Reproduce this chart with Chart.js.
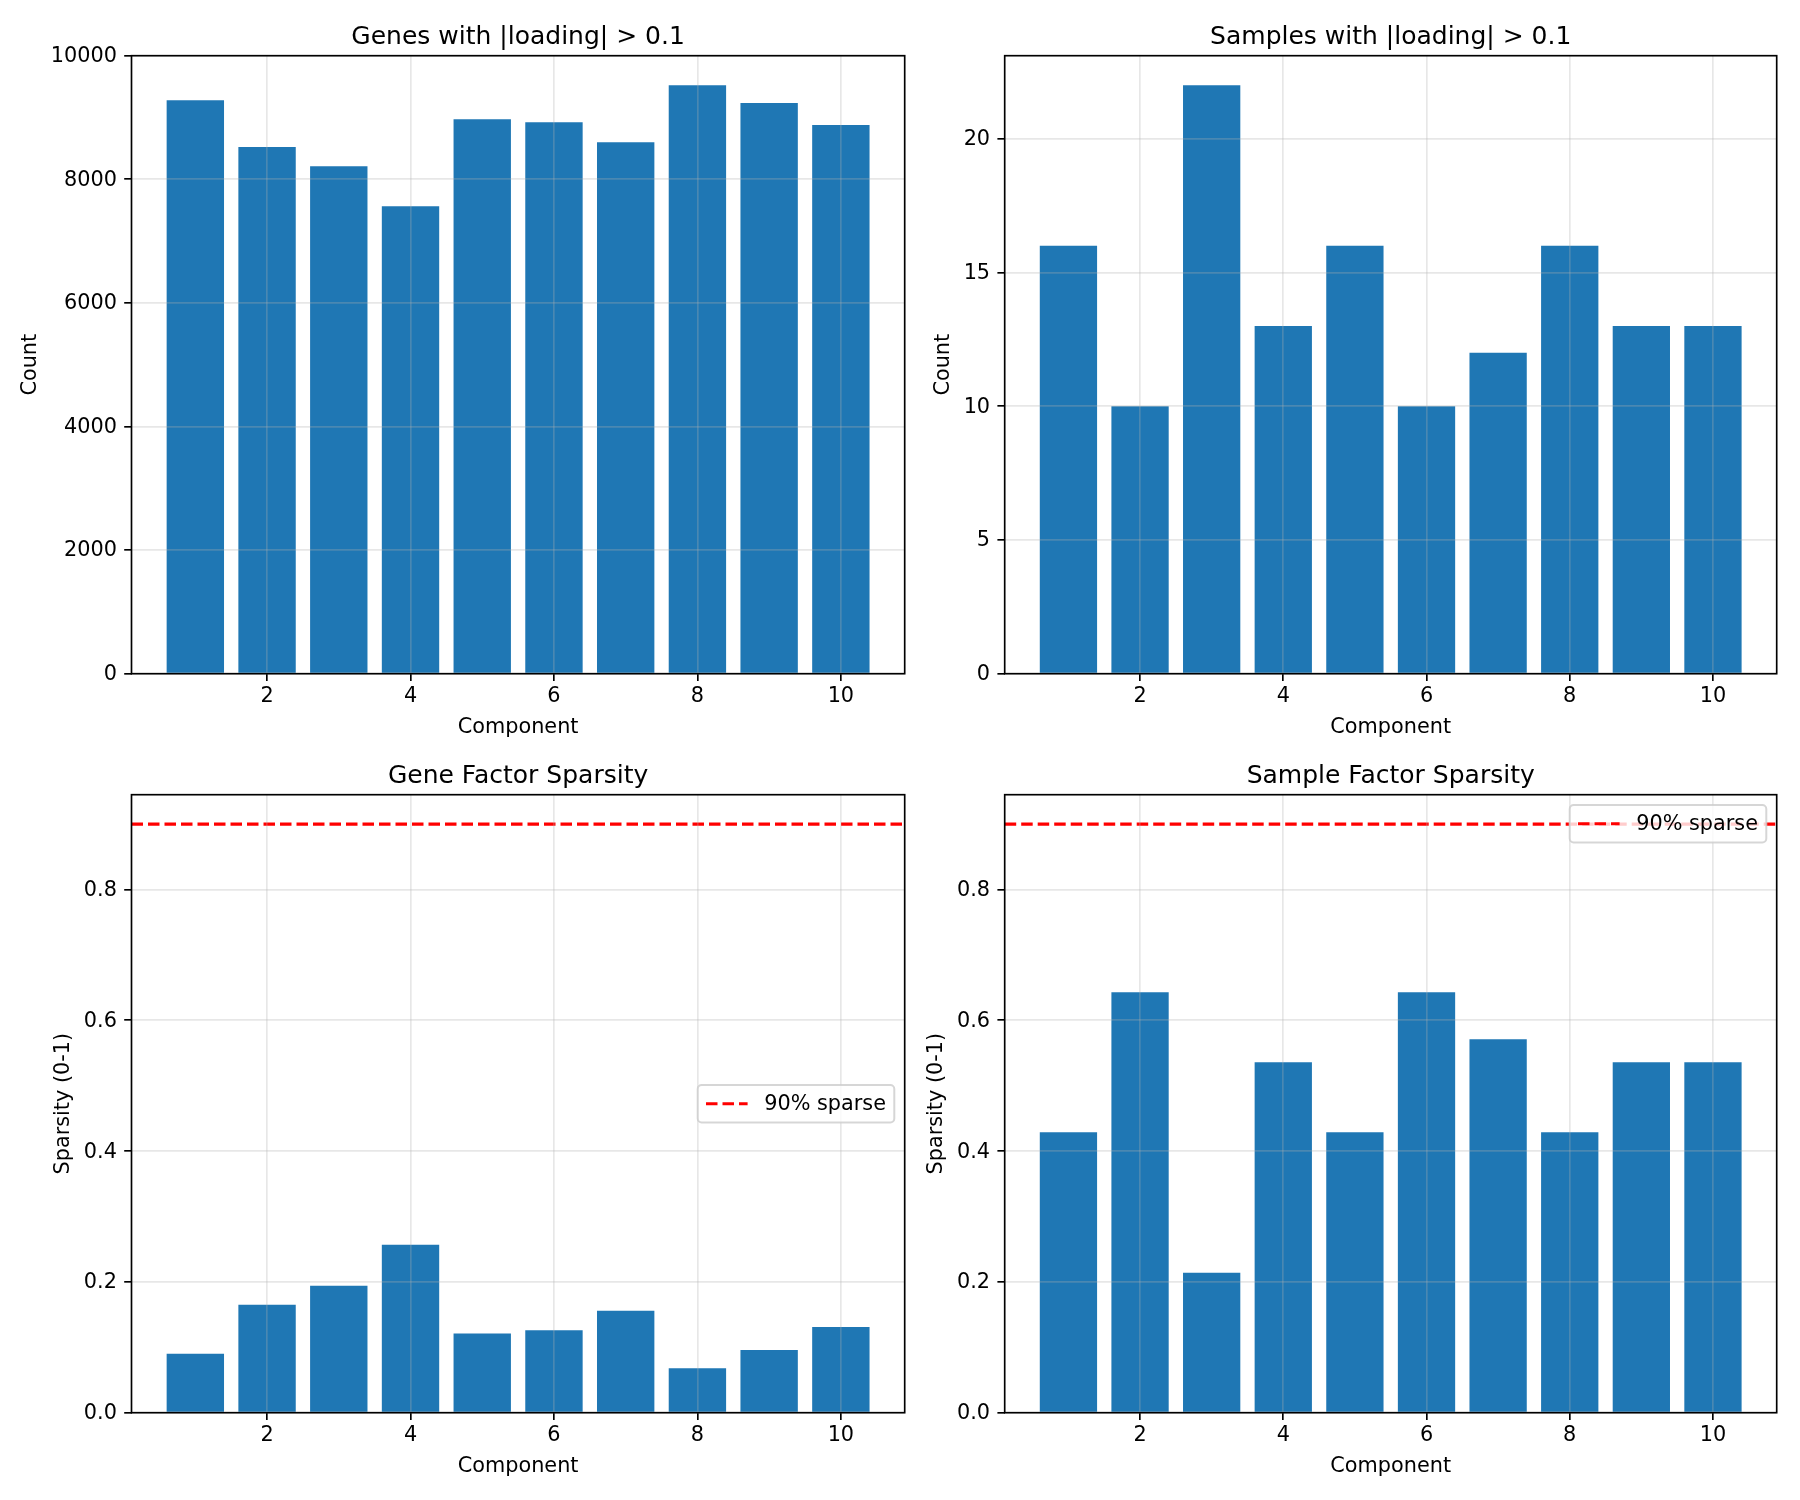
<!DOCTYPE html>
<html>
<head>
<meta charset="utf-8">
<script src="https://cdn.jsdelivr.net/npm/chart.js@4.4.1/dist/chart.umd.min.js"></script>
<style>
  body { margin: 0; background: #fff; }
  #fig { position: relative; width: 1800px; height: 1500px; }
  canvas { position: absolute; }
</style>
</head>
<body>
<div id="fig">
  <canvas id="genes" width="930" height="750" style="left:0;top:0"></canvas>
  <canvas id="samples" width="890" height="750" style="left:910px;top:0"></canvas>
  <canvas id="geneSparse" width="930" height="761" style="left:0;top:739px"></canvas>
  <canvas id="sampleSparse" width="890" height="761" style="left:910px;top:739px"></canvas>
</div>
<script>
// values
const components = [1, 2, 3, 4, 5, 6, 7, 8, 9, 10];
const geneCounts = [9280, 8522, 8212, 7562, 8971, 8924, 8599, 9520, 9234, 8878];
const sampleCounts = [16, 10, 22, 13, 16, 10, 12, 16, 13, 13];
const geneSparsity = [0.090, 0.165, 0.194, 0.257, 0.121, 0.126, 0.156, 0.068, 0.096, 0.131];
const sampleSparsity = [0.429, 0.643, 0.214, 0.536, 0.429, 0.643, 0.571, 0.429, 0.536, 0.536];
const xTicks = [2, 4, 6, 8, 10];
const xRange = [0.11, 10.89];
const geneCountTicks = [0, 2000, 4000, 6000, 8000, 10000];
const sampleCountTicks = [0, 5, 10, 15, 20];
const sparsityTicks = [0, 0.2, 0.4, 0.6, 0.8];
const sparseThreshold = 0.9;
const sparseLabel = '90% sparse';

const FONT = 'DejaVu Sans';
const TICK_PX = 20.8;
const TITLE_PX = 25;
const LW = 1.67;
const BLUE = '#1f77b4';
const GRID = 'rgba(176,176,176,0.3)';

Chart.defaults.font.family = FONT;

// frame round the axes + matplotlib style legend inside the plot
const frameAndLegend = {
    id: 'frameAndLegend',
    afterDraw(chart, args, opts) {
        const { ctx, chartArea: a } = chart;
        ctx.save();
        ctx.strokeStyle = '#000';
        ctx.lineWidth = LW;
        ctx.strokeRect(a.left, a.top, a.right - a.left, a.bottom - a.top);

        const ds = chart.data.datasets.find(d => d.type === 'line');
        if (ds && opts.loc) {
            ctx.font = `${TICK_PX}px "${FONT}"`;
            const pad = 8.3, handle = 41.6, gap = 16.6, axPad = 10.4;
            const w = pad * 2 + handle + gap + ctx.measureText(ds.label).width;
            const h = pad * 2 + TICK_PX;
            const x = a.right - axPad - w;
            const y = opts.loc === 'upper right' ? a.top + axPad : (a.top + a.bottom) / 2 - h / 2;
            ctx.beginPath();
            ctx.roundRect(x, y, w, h, 4);
            ctx.fillStyle = 'rgba(255,255,255,0.8)';
            ctx.fill();
            ctx.strokeStyle = 'rgba(204,204,204,0.8)';
            ctx.lineWidth = 2;
            ctx.stroke();
            const cy = y + h / 2;
            ctx.beginPath();
            ctx.setLineDash(ds.borderDash);
            ctx.strokeStyle = ds.borderColor;
            ctx.lineWidth = ds.borderWidth;
            ctx.moveTo(x + pad, cy);
            ctx.lineTo(x + pad + handle, cy);
            ctx.stroke();
            ctx.setLineDash([]);
            ctx.fillStyle = '#000';
            ctx.textBaseline = 'middle';
            ctx.textAlign = 'left';
            ctx.fillText(ds.label, x + pad + handle + gap, cy + 1);
        }
        ctx.restore();
    }
};

function panel(id, cfg) {
    const canvas = document.getElementById(id);
    const W = canvas.width, H = canvas.height;
    const datasets = [];
    if (cfg.threshold !== undefined) {
        datasets.push({
            type: 'line', label: sparseLabel,
            data: xRange.map(x => ({ x, y: cfg.threshold })),
            borderColor: '#ff0000', borderWidth: 3.125, borderDash: [11.5, 5],
            pointRadius: 0, fill: false, order: 0
        });
    }
    datasets.push({
        type: 'bar',
        data: components.map((c, i) => ({ x: c, y: cfg.values[i] })),
        backgroundColor: BLUE, borderWidth: 0,
        barPercentage: 0.8, categoryPercentage: 1.0, order: 1
    });

    const tickFont = { family: FONT, size: TICK_PX };
    const gridOpts = {
        color: GRID, lineWidth: LW, z: 1, offset: false,
        drawTicks: true, tickColor: '#000', tickWidth: LW, tickLength: 7.3
    };
    const titleTop = 22.9;

    return new Chart(canvas, {
        data: { datasets },
        plugins: [frameAndLegend],
        options: {
            responsive: false,
            animation: false,
            devicePixelRatio: 1,
            layout: { padding: { left: 0, top: 0, right: W - cfg.right, bottom: 0 } },
            plugins: {
                legend: { display: false },
                tooltip: { enabled: false },
                title: {
                    display: true, text: cfg.title, fullSize: false, color: '#000',
                    font: { family: FONT, size: TITLE_PX, weight: 'normal', lineHeight: 1.2 },
                    padding: { top: titleTop, bottom: cfg.top - titleTop - TITLE_PX * 1.2 }
                },
                frameAndLegend: { loc: cfg.legendLoc }
            },
            scales: {
                x: {
                    type: 'linear', min: xRange[0], max: xRange[1], bounds: 'data', offset: false,
                    afterBuildTicks: s => { s.ticks = xTicks.map(v => ({ value: v })); },
                    afterFit: s => { s.height = H - cfg.bottom; },
                    grid: gridOpts,
                    border: { display: false },
                    ticks: { color: '#000', font: tickFont, padding: 3.4, maxRotation: 0, autoSkip: false,
                             callback: v => String(v) },
                    title: {
                        display: true, text: 'Component', color: '#000',
                        font: { family: FONT, size: TICK_PX, lineHeight: 1.2 },
                        padding: { top: 0, bottom: H - TICK_PX * 0.6 - (cfg.bottom + 53.7) }
                    }
                },
                y: {
                    type: 'linear', min: 0, max: cfg.yMax, bounds: 'data',
                    afterBuildTicks: s => { s.ticks = cfg.yTicks.map(v => ({ value: v })); },
                    afterFit: s => { s.width = cfg.left; },
                    grid: gridOpts,
                    border: { display: false },
                    ticks: { color: '#000', font: tickFont, padding: 7.3, labelOffset: 1, autoSkip: false,
                             callback: cfg.yFmt },
                    title: {
                        display: true, text: cfg.yLabel, color: '#000',
                        font: { family: FONT, size: TICK_PX, lineHeight: 1.2 },
                        padding: { top: cfg.yTitleX - TICK_PX * 0.6, bottom: 0 }
                    }
                }
            }
        }
    });
}

const intFmt = v => String(v);
const decFmt = v => v.toFixed(1);

panel('genes', {
    title: 'Genes with |loading| > 0.1', yLabel: 'Count',
    values: geneCounts, yTicks: geneCountTicks, yMax: 10000, yFmt: intFmt,
    left: 131.5, right: 904.7, top: 55.7, bottom: 673.7, yTitleX: 30.9
});
panel('samples', {
    title: 'Samples with |loading| > 0.1', yLabel: 'Count',
    values: sampleCounts, yTicks: sampleCountTicks, yMax: 23.1, yFmt: intFmt,
    left: 94.7, right: 866.7, top: 55.7, bottom: 673.7, yTitleX: 33.5
});
panel('geneSparse', {
    title: 'Gene Factor Sparsity', yLabel: 'Sparsity (0-1)',
    values: geneSparsity, yTicks: sparsityTicks, yMax: 0.945, yFmt: decFmt,
    threshold: sparseThreshold, legendLoc: 'center right',
    left: 131.5, right: 904.7, top: 55.7, bottom: 673.7, yTitleX: 63.8
});
panel('sampleSparse', {
    title: 'Sample Factor Sparsity', yLabel: 'Sparsity (0-1)',
    values: sampleSparsity, yTicks: sparsityTicks, yMax: 0.945, yFmt: decFmt,
    threshold: sparseThreshold, legendLoc: 'upper right',
    left: 94.7, right: 866.7, top: 55.7, bottom: 673.7, yTitleX: 26.5
});
</script>
</body>
</html>
